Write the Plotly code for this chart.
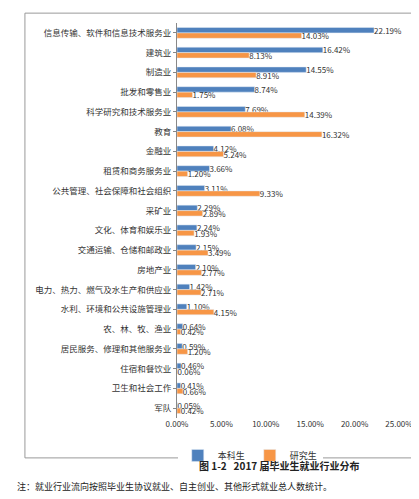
import plotly.graph_objects as go

industries = ["信息传输、软件和信息技术服务业", "建筑业", "制造业", "批发和零售业", "科学研究和技术服务业",
              "教育", "金融业", "租赁和商务服务业", "公共管理、社会保障和社会组织", "采矿业",
              "文化、体育和娱乐业", "交通运输、仓储和邮政业", "房地产业", "电力、热力、燃气及水生产和供应业",
              "水利、环境和公共设施管理业", "农、林、牧、渔业", "居民服务、修理和其他服务业", "住宿和餐饮业",
              "卫生和社会工作", "军队"]
undergrad = [22.19, 16.42, 14.55, 8.74, 7.69, 6.08, 4.12, 3.66, 3.11, 2.29,
             2.24, 2.15, 2.10, 1.42, 1.10, 0.64, 0.59, 0.46, 0.41, 0.05]
graduate = [14.03, 8.13, 8.91, 1.75, 14.39, 16.32, 5.24, 1.20, 9.33, 2.89,
            1.93, 3.49, 2.77, 2.71, 4.15, 0.42, 1.20, 0.06, 0.66, 0.42]

font = "Noto Sans CJK SC"
fig = go.Figure()
fig.add_trace(go.Bar(y=industries, x=undergrad, orientation="h", name="本科生",
                     marker_color="#4F81BD", legendrank=1,
                     text=[f"{v:.2f}%" for v in undergrad], textposition="outside",
                     constraintext="none", cliponaxis=False,
                     textfont=dict(size=8, color="#333")))
fig.add_trace(go.Bar(y=industries, x=graduate, orientation="h", name="研究生",
                     marker_color="#F79646", legendrank=2,
                     text=[f"{v:.2f}%" for v in graduate], textposition="outside",
                     constraintext="none", cliponaxis=False,
                     textfont=dict(size=8, color="#333")))

fig.update_layout(
    width=419, height=499, barmode="group", bargap=0.45, bargroupgap=0,
    margin=dict(l=169, r=28, t=15, b=89, autoexpand=False),
    plot_bgcolor="white", paper_bgcolor="white",
    font=dict(family=font, size=9, color="#333"),
    legend=dict(orientation="h", x=0.33, xanchor="center", y=-0.058, yanchor="top",
                font=dict(size=9), itemwidth=30),
    shapes=[dict(type="rect", xref="paper", yref="paper", x0=-0.685, x1=1.077,
                 y0=-0.101, y1=1.025, line=dict(color="#999", width=1))],
    annotations=[
        dict(text="<b>图 1-2   2017 届毕业生就业行业分布</b>", xref="paper", yref="paper",
             x=0.09, y=-0.145, showarrow=False, font=dict(size=10, color="#222")),
        dict(text="注：就业行业流向按照毕业生协议就业、自主创业、其他形式就业总人数统计。",
             xref="paper", yref="paper", x=-0.73, xanchor="left", y=-0.195,
             showarrow=False, font=dict(size=9, color="#222")),
    ],
)
fig.update_xaxes(range=[0, 25], dtick=5, tickformat=".2f", ticksuffix="%",
                 showgrid=False, zeroline=False, tickfont=dict(size=8))
fig.update_yaxes(autorange="reversed", showline=True, linecolor="#888",
                 ticks="outside", ticklen=3, tickcolor="#888", tickfont=dict(size=8.5))
fig.write_html("out.html")
